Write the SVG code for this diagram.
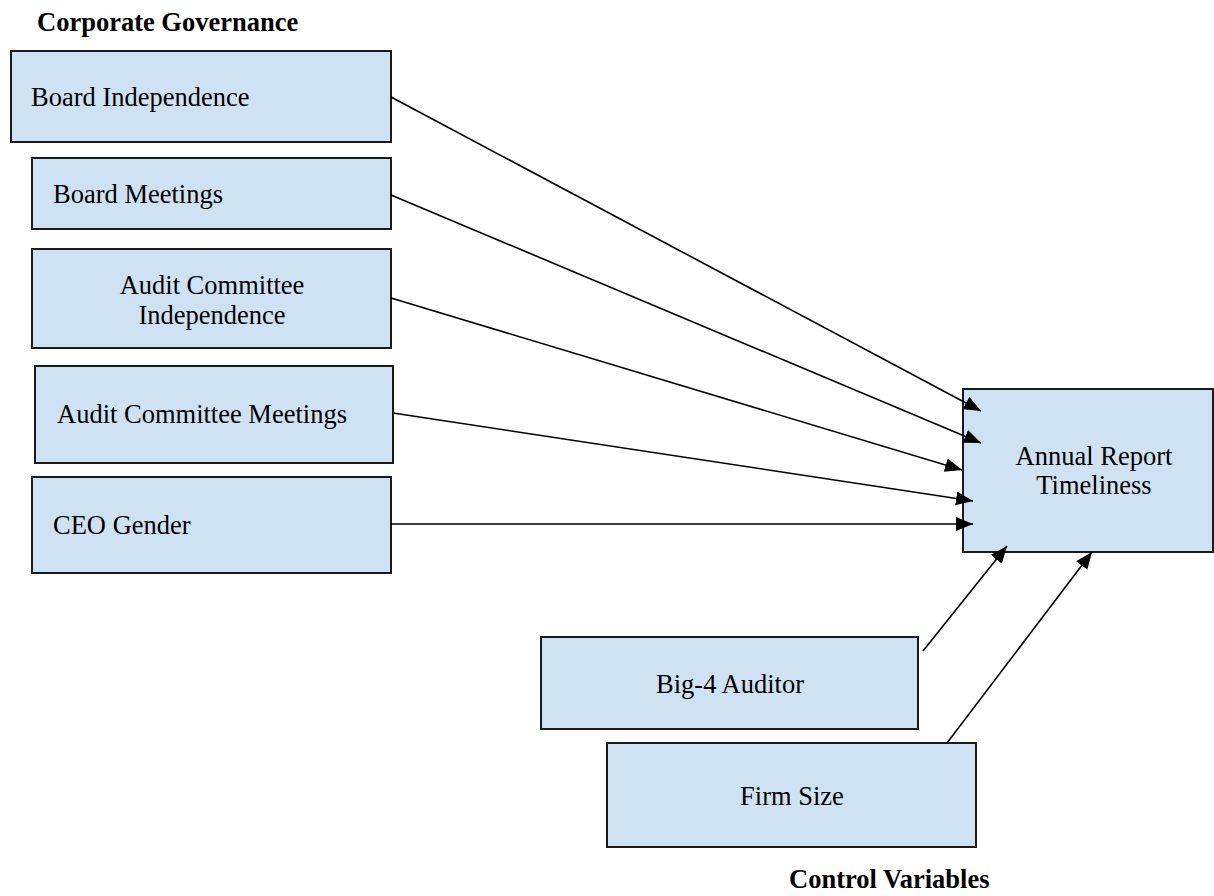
<svg xmlns="http://www.w3.org/2000/svg" width="1214" height="896" viewBox="0 0 1214 896">
<style>
.box{fill:#cfe2f3;stroke:#1a1a1a;stroke-width:2}
.t{font-family:"Liberation Serif","Times New Roman",serif;font-size:26.5px;fill:#000}
.b{font-weight:bold}
.c{text-anchor:middle}
.ln{stroke:#000;stroke-width:1.6;fill:none;marker-end:url(#ah)}
</style>
<defs>
<marker id="ah" markerUnits="userSpaceOnUse" markerWidth="18" markerHeight="15" refX="17" refY="7" orient="auto">
<path d="M0,0 L17,7 L0,14 z" fill="#000"/>
</marker>
</defs>
<text class="t b" x="37" y="31">Corporate Governance</text>
<text class="t b" x="789" y="888">Control Variables</text>
<g id="board-independence"><rect class="box" x="11" y="51" width="380" height="91"/><text class="t" x="31" y="106">Board Independence</text></g>
<g id="board-meetings"><rect class="box" x="32" y="158" width="359" height="71"/><text class="t" x="53" y="203">Board Meetings</text></g>
<g id="audit-committee-independence"><rect class="box" x="32" y="249" width="359" height="99"/><text class="t c" x="212" y="294">Audit Committee</text><text class="t c" x="212" y="324">Independence</text></g>
<g id="audit-committee-meetings"><rect class="box" x="35" y="366" width="358" height="97"/><text class="t" x="57" y="423">Audit Committee Meetings</text></g>
<g id="ceo-gender"><rect class="box" x="32" y="477" width="359" height="96"/><text class="t" x="53" y="534">CEO Gender</text></g>
<g id="annual-report-timeliness"><rect class="box" x="963" y="389" width="250" height="163"/><text class="t c" x="1094" y="465">Annual Report</text><text class="t c" x="1094" y="494">Timeliness</text></g>
<g id="big4-auditor"><rect class="box" x="541" y="637" width="377" height="92"/><text class="t c" x="730" y="693">Big-4 Auditor</text></g>
<g id="firm-size"><rect class="box" x="607" y="743" width="369" height="104"/><text class="t c" x="792" y="805">Firm Size</text></g>
<g id="connectors">
<line class="ln" x1="391" y1="97" x2="981" y2="411"/>
<line class="ln" x1="391" y1="195" x2="981" y2="443"/>
<line class="ln" x1="391" y1="298" x2="962" y2="470"/>
<line class="ln" x1="393" y1="413" x2="973" y2="501"/>
<line class="ln" x1="391" y1="524" x2="973" y2="524"/>
<line class="ln" x1="923" y1="651" x2="1007" y2="546"/>
<line class="ln" x1="947" y1="743" x2="1092" y2="552"/>
</g>
</svg>
